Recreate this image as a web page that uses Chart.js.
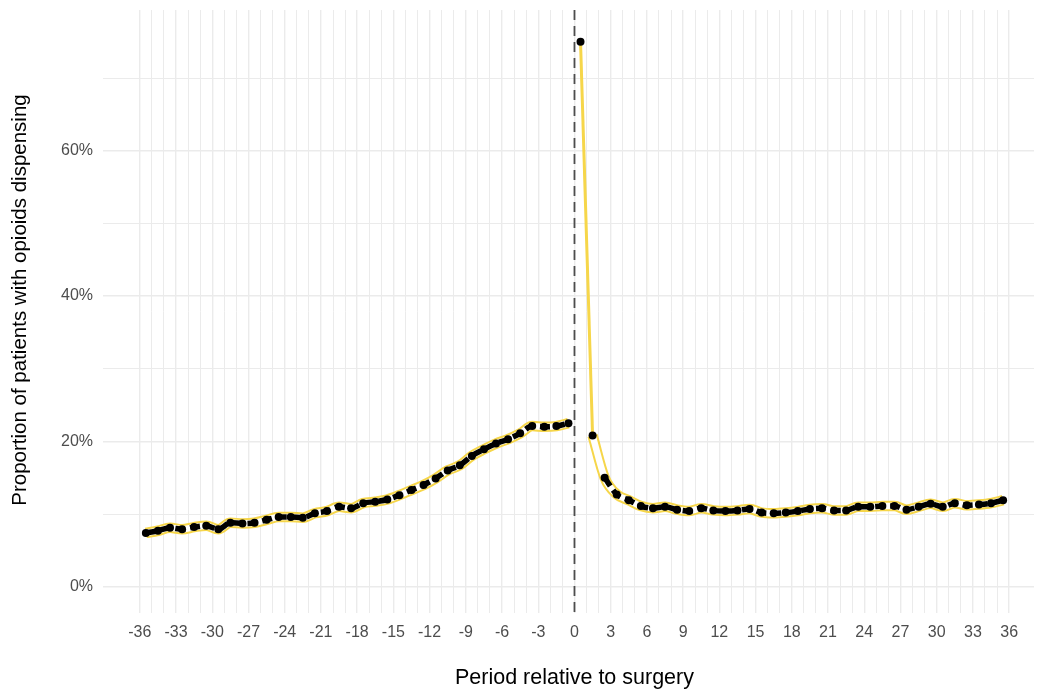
<!DOCTYPE html>
<html>
<head>
<meta charset="utf-8">
<script src="https://cdn.jsdelivr.net/npm/chart.js@4.4.1/dist/chart.umd.min.js"></script>
<style>
  html, body { margin: 0; padding: 0; background: #fff; }
  #wrap { width: 1038px; height: 689px; }
</style>
</head>
<body>
<div id="wrap"><canvas id="chart" width="1038" height="689"></canvas></div>
<script>
// periods (months) relative to surgery, plotted at mid-period
let prePeriods = [-35.5, -34.5, -33.5, -32.5, -31.5, -30.5, -29.5, -28.5, -27.5, -26.5, -25.5, -24.5,
    -23.5, -22.5, -21.5, -20.5, -19.5, -18.5, -17.5, -16.5, -15.5, -14.5, -13.5, -12.5,
    -11.5, -10.5, -9.5, -8.5, -7.5, -6.5, -5.5, -4.5, -3.5, -2.5, -1.5, -0.5];
let postPeriods = [0.5, 1.5, 2.5, 3.5, 4.5, 5.5, 6.5, 7.5, 8.5, 9.5, 10.5, 11.5,
    12.5, 13.5, 14.5, 15.5, 16.5, 17.5, 18.5, 19.5, 20.5, 21.5, 22.5, 23.5,
    24.5, 25.5, 26.5, 27.5, 28.5, 29.5, 30.5, 31.5, 32.5, 33.5, 34.5, 35.5];

// % of patients with an opioid dispensing
let preValues = [7.4, 7.7, 8.1, 7.9, 8.2, 8.4, 7.9, 8.8, 8.7, 8.8, 9.2, 9.6,
    9.6, 9.5, 10.1, 10.4, 11.0, 10.8, 11.5, 11.7, 12.0, 12.6, 13.3, 14.0,
    14.9, 16.0, 16.7, 18.0, 18.9, 19.7, 20.3, 21.1, 22.1, 22.0, 22.1, 22.5];
let postValues = [75.0, 20.8, 15.0, 12.7, 11.9, 11.1, 10.8, 11.0, 10.6, 10.4, 10.8, 10.5,
    10.4, 10.5, 10.7, 10.2, 10.1, 10.2, 10.4, 10.7, 10.8, 10.5, 10.5, 11.0,
    11.0, 11.1, 11.1, 10.6, 11.0, 11.4, 11.0, 11.5, 11.2, 11.3, 11.5, 11.9];

let xTickLabels = [-36, -33, -30, -27, -24, -21, -18, -15, -12, -9, -6, -3, 0, 3, 6, 9, 12, 15, 18, 21, 24, 27, 30, 33, 36];
let yTickLabels = [0, 20, 40, 60];

const YELLOW = "#F6D64A";
const FONT = "'Liberation Sans', Arial, sans-serif";

function toPts(xs, ys) {
    return xs.map((x, i) => ({x: x, y: ys[i]}));
}
let prePts = toPts(prePeriods, preValues);
let postPts = toPts(postPeriods, postValues);

// grid every month, every 10%
let xGrid = [];
for (let v = xTickLabels[0]; v <= xTickLabels[xTickLabels.length - 1]; v++) xGrid.push(v);
let yGrid = [0, 10, 20, 30, 40, 50, 60, 70];

// dashed vertical line at surgery + axis titles
const extras = {
    id: "extras",
    beforeDatasetsDraw(chart) {
        let {ctx, chartArea, scales} = chart;
        let x = scales.x.getPixelForValue(0);
        ctx.save();
        ctx.strokeStyle = "#4d4d4d";
        ctx.lineWidth = 1.8;
        ctx.setLineDash([10, 6]);
        ctx.beginPath();
        ctx.moveTo(x, chartArea.top);
        ctx.lineTo(x, chartArea.bottom);
        ctx.stroke();
        ctx.restore();
    },
    afterDraw(chart) {
        let ctx = chart.ctx;
        ctx.save();
        ctx.fillStyle = "#000";
        ctx.textAlign = "center";
        ctx.textBaseline = "middle";
        ctx.font = "21.5px " + FONT;
        ctx.fillText("Period relative to surgery", chart.scales.x.getPixelForValue(0), 678);
        ctx.font = "20.5px " + FONT;
        ctx.translate(20, 300);
        ctx.rotate(-Math.PI / 2);
        ctx.fillText("Proportion of patients with opioids dispensing", 0, 0);
        ctx.restore();
    }
};

const lineBase = {
    pointRadius: 0,
    cubicInterpolationMode: "monotone",
    fill: false
};

new Chart(document.getElementById("chart"), {
    type: "line",
    data: {
        datasets: [
            {data: prePts.concat(postPts), showLine: false, pointRadius: 4, pointBorderWidth: 0,
             pointBackgroundColor: "#000", order: 1},
            Object.assign({data: prePts, borderColor: "#000", borderWidth: 5.5, borderDash: [10, 5], order: 2}, lineBase),
            Object.assign({data: postPts.slice(2), borderColor: "#000", borderWidth: 5.5, borderDash: [10, 5], order: 2}, lineBase),
            Object.assign({data: prePts, borderColor: "#fff", borderWidth: 6.5, order: 3}, lineBase),
            Object.assign({data: postPts.slice(1), borderColor: "#fff", borderWidth: 6.5, order: 3}, lineBase),
            Object.assign({data: prePts, borderColor: YELLOW, borderWidth: 10.5, order: 4}, lineBase),
            Object.assign({data: postPts.slice(1), borderColor: YELLOW, borderWidth: 10.5, order: 4}, lineBase),
            {data: postPts.slice(0, 2), borderColor: YELLOW, borderWidth: 3, pointRadius: 0, tension: 0, order: 4}
        ]
    },
    options: {
        responsive: false,
        animation: false,
        devicePixelRatio: 1,
        layout: {padding: {top: 10, left: 0, right: 0, bottom: 0}},
        plugins: {legend: {display: false}, tooltip: {enabled: false}},
        scales: {
            x: {
                type: "linear",
                min: -39.05,
                max: 38.06,
                afterBuildTicks: s => { s.ticks = xGrid.map(v => ({value: v})); },
                afterFit: s => { s.height = 76; s.paddingLeft = 0; s.paddingRight = 0; },
                ticks: {
                    autoSkip: false,
                    maxRotation: 0,
                    padding: 10,
                    color: "#4d4d4d",
                    font: {size: 16, family: FONT},
                    callback: v => xTickLabels.includes(v) ? String(v) : ""
                },
                grid: {
                    color: "#ebebeb",
                    lineWidth: c => (c.tick && c.tick.value % 3 === 0) ? 1.4 : 1,
                    drawTicks: false
                },
                border: {display: false}
            },
            y: {
                type: "linear",
                min: -3.62,
                max: 79.36,
                afterBuildTicks: s => { s.ticks = yGrid.map(v => ({value: v})); },
                afterFit: s => { s.width = 103; s.paddingTop = 0; s.paddingBottom = 0; },
                ticks: {
                    padding: 10,
                    color: "#4d4d4d",
                    font: {size: 16, family: FONT},
                    callback: v => yTickLabels.includes(v) ? v + "%" : ""
                },
                grid: {
                    color: "#ebebeb",
                    lineWidth: c => (c.tick && c.tick.value % 20 === 0) ? 1.4 : 1,
                    drawTicks: false
                },
                border: {display: false}
            }
        }
    },
    plugins: [extras]
});
</script>
</body>
</html>
